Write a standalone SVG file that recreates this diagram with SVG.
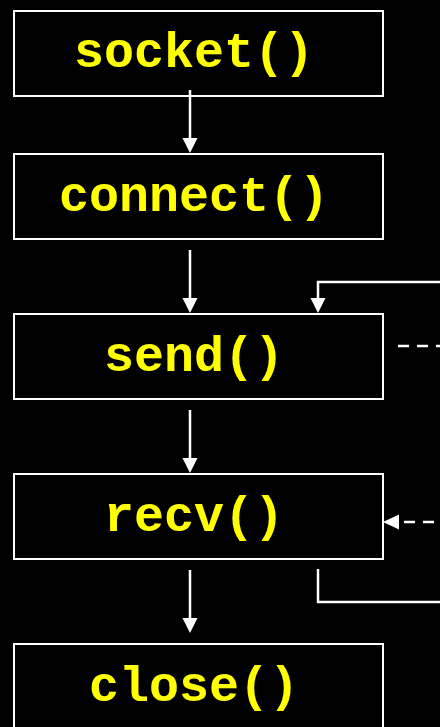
<svg xmlns="http://www.w3.org/2000/svg" width="440" height="727" viewBox="0 0 440 727">
  <style>
    .box { fill: #000000; stroke: #ffffff; stroke-width: 2; }
    .label { fill: #ffff00; font-family: "Liberation Mono", "Courier New", monospace; font-weight: bold; font-size: 50px; text-anchor: middle; }
    .link { fill: none; stroke: #ffffff; stroke-width: 2.5; }
    .dash { fill: none; stroke: #ffffff; stroke-width: 2.5; stroke-dasharray: 11 8; }
    .head { fill: #ffffff; stroke: none; }
  </style>
  <rect x="0" y="0" width="440" height="727" fill="#000000"/>

  <g id="node-socket">
    <rect class="box" x="14" y="11" width="369" height="85"/>
    <text class="label" x="194" y="67">socket()</text>
  </g>
  <g id="node-connect">
    <rect class="box" x="14" y="154" width="369" height="85"/>
    <text class="label" x="194" y="211">connect()</text>
  </g>
  <g id="node-send">
    <rect class="box" x="14" y="314" width="369" height="85"/>
    <text class="label" x="194" y="371">send()</text>
  </g>
  <g id="node-recv">
    <rect class="box" x="14" y="474" width="369" height="85"/>
    <text class="label" x="194" y="531">recv()</text>
  </g>
  <g id="node-close">
    <rect class="box" x="14" y="644" width="369" height="90"/>
    <text class="label" x="194" y="701">close()</text>
  </g>

  <g id="connectors">
    <!-- main flow -->
    <line class="link" x1="190" y1="90" x2="190" y2="140"/>
    <polygon class="head" points="182.5,138 197.5,138 190,153"/>

    <line class="link" x1="190" y1="250" x2="190" y2="300"/>
    <polygon class="head" points="182.5,298 197.5,298 190,313"/>

    <line class="link" x1="190" y1="410" x2="190" y2="460"/>
    <polygon class="head" points="182.5,458 197.5,458 190,473"/>

    <line class="link" x1="190" y1="570" x2="190" y2="620"/>
    <polygon class="head" points="182.5,618 197.5,618 190,633"/>

    <!-- loop back from recv to send -->
    <polyline class="link" points="318,569 318,602 442,602"/>
    <polyline class="link" points="442,282 318,282 318,300"/>
    <polygon class="head" points="310.5,298 325.5,298 318,313"/>

    <!-- dashed exchange lines -->
    <line class="dash" x1="398" y1="346" x2="442" y2="346"/>
    <line class="dash" x1="404" y1="522" x2="442" y2="522"/>
    <polygon class="head" points="383,522 399,514.5 399,529.5"/>
  </g>
</svg>
